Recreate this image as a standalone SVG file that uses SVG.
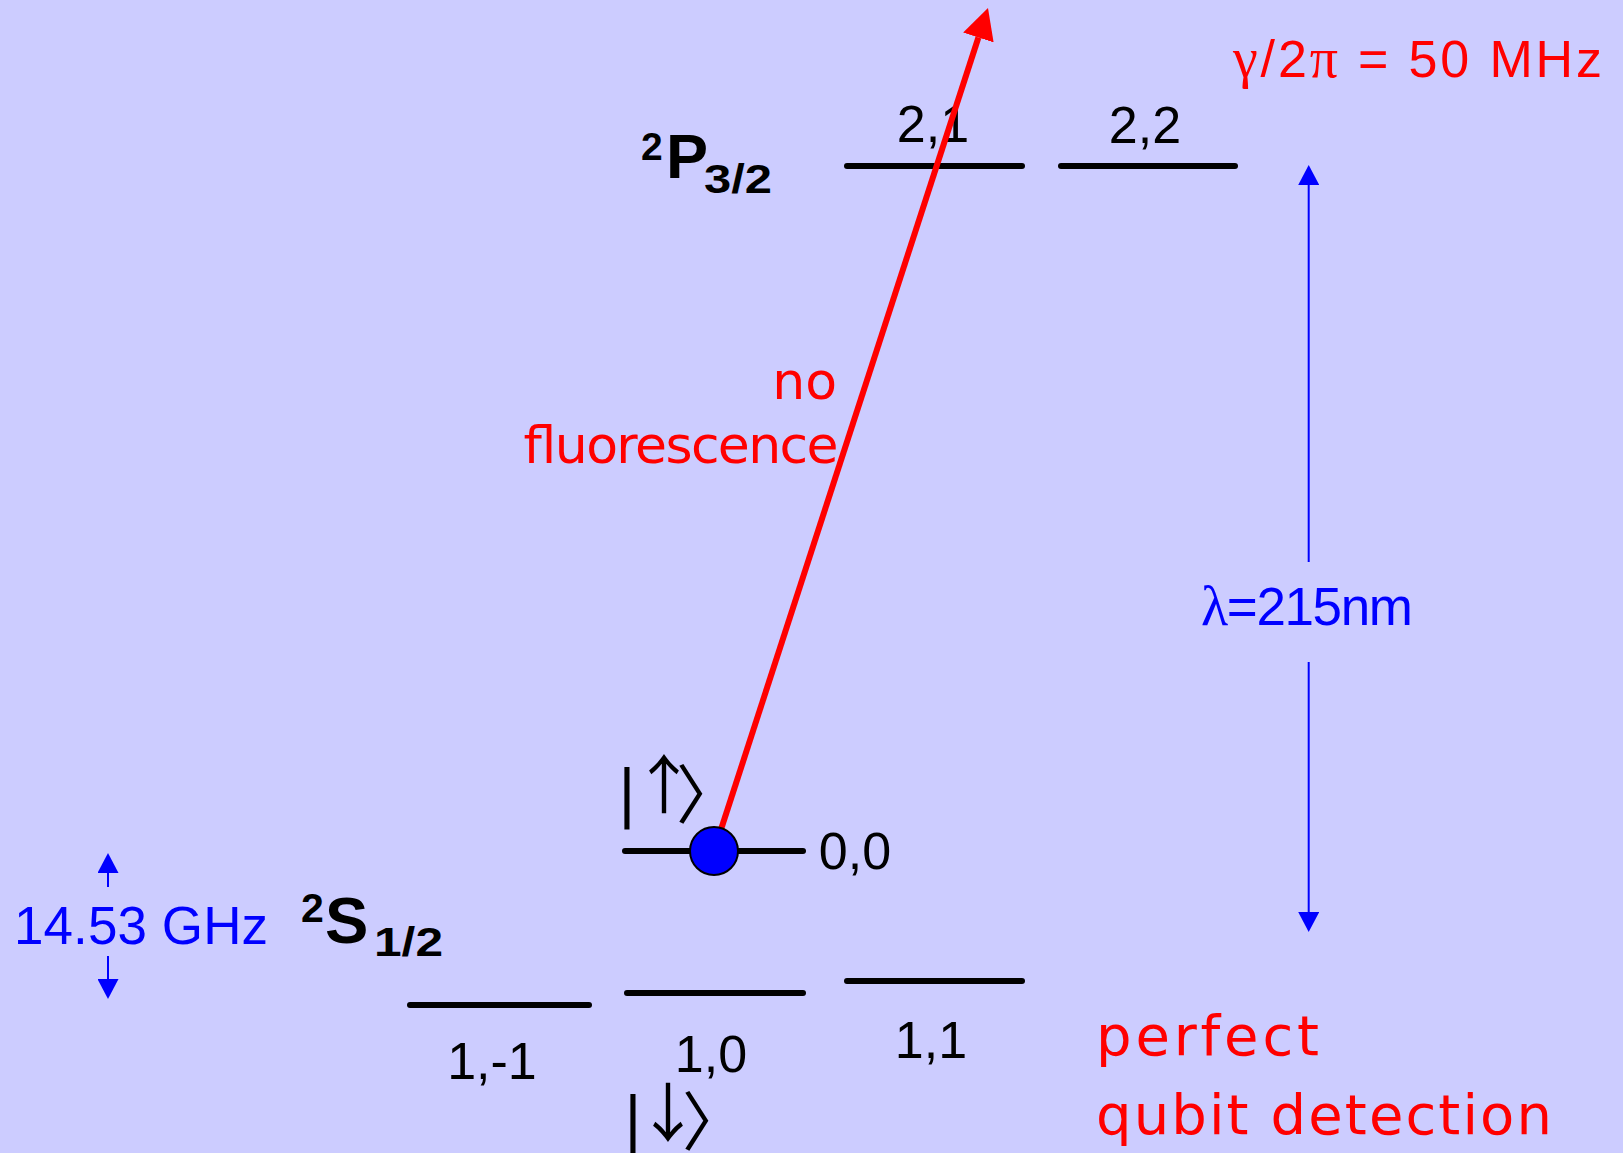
<svg xmlns="http://www.w3.org/2000/svg" width="1623" height="1153" viewBox="0 0 1623 1153">
<style>
.lvl{stroke:#000;stroke-width:6;stroke-linecap:round}
.lab{font-family:"Liberation Sans",Arial,sans-serif;font-size:52px;fill:#000}
.term{font-family:"Liberation Sans",Arial,sans-serif;font-weight:bold;fill:#000}
.red{font-family:"DejaVu Sans",sans-serif;fill:#FF0000}
.blue{font-family:"Liberation Sans",Arial,sans-serif;fill:#0000FF;font-size:53px}
.serif{font-family:"Liberation Serif","Times New Roman",serif}
.ket{font-family:"Noto Sans CJK JP","DejaVu Sans",sans-serif;font-size:64px;fill:#000}
.bar{font-family:"DejaVu Sans",sans-serif;font-size:62px}
.barrow{stroke:#0000FF;stroke-width:2;fill:none}
.rarrow{stroke:#FF0000;stroke-width:6;fill:none}
</style>
<defs>
<marker id="bh" markerUnits="userSpaceOnUse" viewBox="0 0 20 21" markerWidth="20" markerHeight="21" refX="0" refY="10.5" orient="auto"><path d="M0,0 L20,10.5 L0,21 z" fill="#0000FF"/></marker>
<marker id="rh" markerUnits="userSpaceOnUse" viewBox="0 0 31 32" markerWidth="31" markerHeight="32" refX="0" refY="16" orient="auto"><path d="M0,0 L31,16 L0,32 z" fill="#FF0000"/></marker>
</defs>
<rect x="0" y="0" width="1623" height="1153" fill="#CCCCFF"/>

<g id="term-P32">
<text class="term" x="641" y="160" font-size="39">2</text>
<text class="term" x="666" y="178" font-size="63">P</text>
<text class="term" x="704" y="193" font-size="40" textLength="68" lengthAdjust="spacingAndGlyphs">3/2</text>
</g>
<g id="term-S12">
<text class="term" x="301" y="922" font-size="41">2</text>
<text class="term" x="325" y="943" font-size="65">S</text>
<text class="term" x="374" y="956" font-size="40" textLength="69" lengthAdjust="spacingAndGlyphs">1/2</text>
</g>

<g id="level-2-1">
<line class="lvl" x1="847" y1="166" x2="1022" y2="166"/>
<text class="lab" x="933" y="142" text-anchor="middle">2,1</text>
</g>
<g id="level-2-2">
<line class="lvl" x1="1061" y1="166" x2="1235" y2="166"/>
<text class="lab" x="1145" y="143" text-anchor="middle">2,2</text>
</g>
<g id="level-0-0">
<line class="lvl" x1="625" y1="851" x2="803" y2="851"/>
<text class="lab" x="855" y="869" text-anchor="middle">0,0</text>
</g>
<g id="level-1-m1">
<line class="lvl" x1="410" y1="1005" x2="589" y2="1005"/>
<text class="lab" x="492" y="1079" text-anchor="middle">1,-1</text>
</g>
<g id="level-1-0">
<line class="lvl" x1="627" y1="993" x2="803" y2="993"/>
<text class="lab" x="711" y="1072" text-anchor="middle">1,0</text>
</g>
<g id="level-1-1">
<line class="lvl" x1="847" y1="981" x2="1022" y2="981"/>
<text class="lab" x="931" y="1058" text-anchor="middle">1,1</text>
</g>

<g id="ket-up">
<text class="ket" text-anchor="middle"><tspan class="bar" x="627" y="814">|</tspan><tspan x="664" y="808">↑</tspan><tspan x="708" y="818">〉</tspan></text>
</g>
<g id="ket-down">
<text class="ket" text-anchor="middle"><tspan class="bar" x="633" y="1141">|</tspan><tspan x="668" y="1136">↓</tspan><tspan x="714" y="1145">〉</tspan></text>
</g>

<g id="label-gamma">
<text class="red" x="1233" y="77" font-size="52" textLength="369" lengthAdjust="spacing" style="font-family:'Liberation Sans',Arial,sans-serif"><tspan class="serif" font-size="56">γ</tspan>/2<tspan class="serif" font-size="56">π</tspan> = 50 MHz</text>
</g>
<g id="label-nofluor">
<text class="red" x="837" y="399" font-size="52" text-anchor="end">no</text>
<text class="red" x="522" y="463" font-size="52" textLength="315" lengthAdjust="spacing">fluorescence</text>
</g>
<g id="label-detection">
<text class="red" x="1096" y="1055" font-size="56" textLength="223" lengthAdjust="spacing">perfect</text>
<text class="red" x="1096" y="1134" font-size="56" textLength="456" lengthAdjust="spacing">qubit detection</text>
</g>
<g id="label-lambda">
<text class="blue" x="1201" y="625" textLength="212" lengthAdjust="spacing"><tspan class="serif" font-size="56">λ</tspan>=215nm</text>
</g>
<g id="label-ghz">
<text class="blue" x="14" y="944" textLength="254" lengthAdjust="spacing">14.53 GHz</text>
</g>

<g id="connectors">
<line class="barrow" x1="1308.7" y1="562" x2="1308.7" y2="185" marker-end="url(#bh)"/>
<line class="barrow" x1="1308.7" y1="662" x2="1308.7" y2="912" marker-end="url(#bh)"/>
<line class="barrow" x1="108" y1="887" x2="108" y2="873" marker-end="url(#bh)"/>
<line class="barrow" x1="108" y1="956" x2="108" y2="979" marker-end="url(#bh)"/>
<line class="rarrow" x1="714" y1="851" x2="978.4" y2="37.5" marker-end="url(#rh)"/>
</g>

<g id="ion">
<circle cx="714" cy="851" r="24" fill="#0000FF" stroke="#000" stroke-width="2"/>
</g>
</svg>
